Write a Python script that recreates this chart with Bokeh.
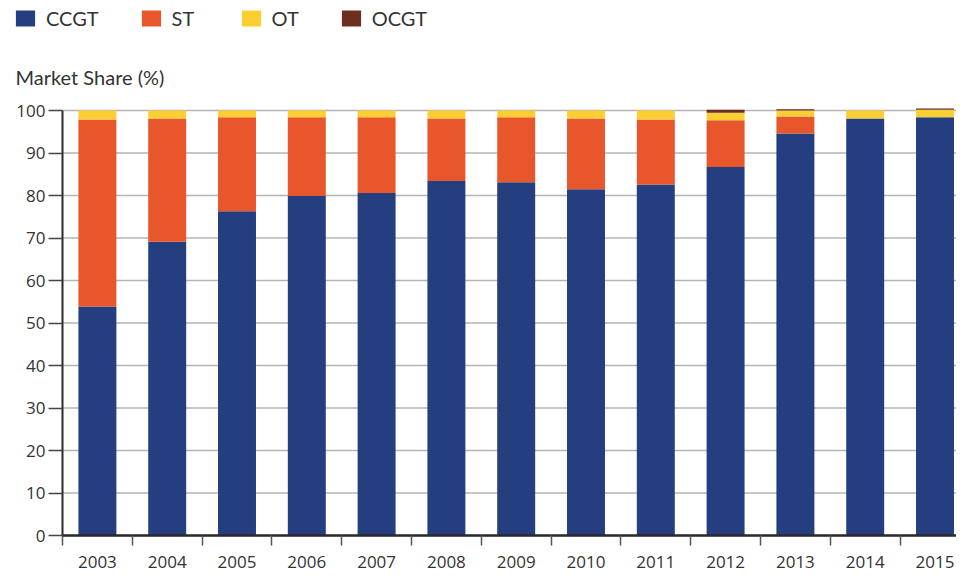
from bokeh.plotting import figure
from bokeh.models import Range1d, FixedTicker, Legend, LegendItem, Label
from bokeh.embed import file_html
from bokeh.resources import INLINE

years = ["2003", "2004", "2005", "2006", "2007", "2008", "2009",
         "2010", "2011", "2012", "2013", "2014", "2015"]
ccgt = [53.9, 69.1, 76.3, 79.9, 80.6, 83.4, 83.1, 81.5, 82.6, 86.7, 94.6, 98.1, 98.4]
st = [44.0, 29.0, 22.1, 18.5, 17.8, 14.7, 15.3, 16.6, 15.3, 11.0, 4.0, 0.0, 0.0]
ot = [2.1, 1.9, 1.6, 1.6, 1.6, 1.9, 1.6, 1.9, 2.1, 1.8, 1.4, 1.9, 1.8]
ocgt = [0, 0, 0, 0, 0, 0, 0, 0, 0, 0.7, 0.3, 0, 0.3]
series = ["CCGT", "ST", "OT", "OCGT"]
colors = ["#243E80", "#E8572B", "#FBCF33", "#6B2E21"]
y_ticks = list(range(0, 101, 10))
y_title = "Market Share (%)"

W, H = 956, 573
LEFT = 62          # pixel position of the value axis
STEP = 69.8        # pixels per year
BOTTOM = 535       # pixel position of the zero line
PX_PER_UNIT = 4.25

x_end = (W - LEFT) / STEP
xs = [i + 0.5 for i in range(len(years))]
data = dict(x=xs, CCGT=ccgt, ST=st, OT=ot, OCGT=ocgt)

p = figure(width=W, height=H, output_backend="svg", toolbar_location=None,
           x_range=Range1d(-LEFT / STEP, x_end),
           y_range=Range1d(-(H - BOTTOM) / PX_PER_UNIT, BOTTOM / PX_PER_UNIT),
           min_border_left=0, min_border_right=0, min_border_top=0,
           min_border_bottom=0)
p.title = None
p.outline_line_color = None
p.background_fill_color = "white"
p.xgrid.grid_line_color = None
p.ygrid.grid_line_color = None

# horizontal grid lines, from the axis to the right edge
p.segment(x0=[0] * len(y_ticks), x1=[x_end] * len(y_ticks), y0=y_ticks, y1=y_ticks,
          line_color="#b4b4b4", line_width=1.5)

renderers = p.vbar_stack(series, x="x", width=0.544, source=data,
                         color=colors, line_color=None)

xa = p.xaxis[0]
xa.fixed_location = 0
xa.bounds = (0, x_end)
xa.ticker = FixedTicker(ticks=xs, minor_ticks=list(range(0, len(years) + 1)))
xa.major_label_overrides = {x: y for x, y in zip(xs, years)}
xa.major_tick_out = 0
xa.major_tick_in = 0
xa.minor_tick_out = 10
xa.minor_tick_in = 0
xa.minor_tick_line_color = "#555555"
xa.minor_tick_line_width = 1.5
xa.axis_line_color = "#2a2a2a"
xa.axis_line_width = 2.5
xa.major_label_standoff = 10
xa.major_label_text_font = "Open Sans"
xa.major_label_text_font_size = "17px"
xa.major_label_text_color = "#333333"

ya = p.yaxis[0]
ya.fixed_location = 0
ya.bounds = (0, 100)
ya.ticker = FixedTicker(ticks=y_ticks)
ya.major_tick_out = 14
ya.major_tick_in = 0
ya.minor_tick_line_color = None
ya.major_tick_line_color = "#444444"
ya.major_tick_line_width = 1.5
ya.axis_line_color = "#2a2a2a"
ya.axis_line_width = 2
ya.major_label_standoff = 3
ya.major_label_text_font = "Open Sans"
ya.major_label_text_font_size = "17px"
ya.major_label_text_color = "#333333"

p.add_layout(Label(x=15, y=H - 76, x_units="screen", y_units="screen",
                   text=y_title, text_font="Lato", text_font_size="20px",
                   text_color="#333333", text_baseline="alphabetic"))

legend = Legend(items=[LegendItem(label=s, renderers=[r]) for s, r in zip(series, renderers)],
                orientation="horizontal", location=(13, H - 30),
                glyph_width=24, glyph_height=20, label_height=20,
                label_standoff=9, label_width=27, spacing=40,
                padding=0, margin=0, border_line_color=None,
                background_fill_alpha=0,
                label_text_font="Lato", label_text_font_size="20px",
                label_text_color="#333333")
p.add_layout(legend, "center")

open("out.html", "w").write(file_html(p, INLINE))
